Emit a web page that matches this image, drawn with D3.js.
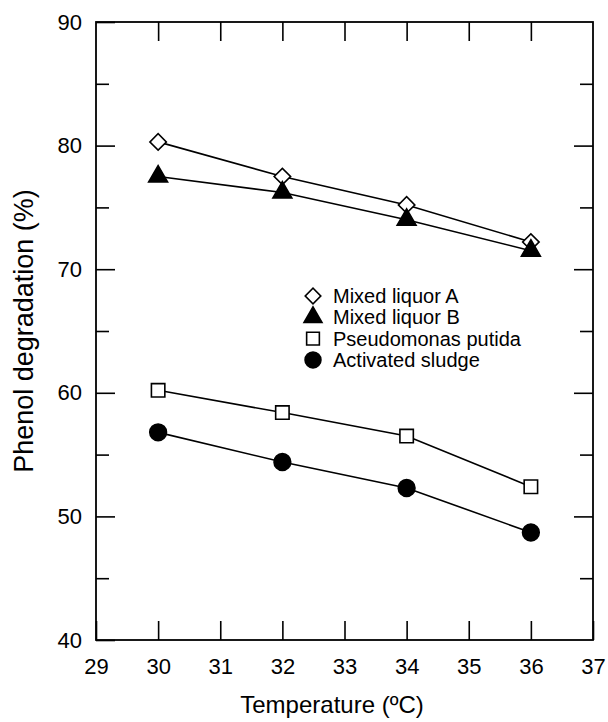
<!DOCTYPE html>
<html><head><meta charset="utf-8">
<script src="https://cdn.jsdelivr.net/npm/d3@7"></script>
<style>body{margin:0;background:#fff}text{font-family:"Liberation Sans",Arial,sans-serif;fill:#000}</style>
</head><body><svg id="c" width="608" height="722"></svg>
<script>
const temperature = [30, 32, 34, 36];
const mixedLiquorA = [80.3, 77.5, 75.2, 72.2];
const mixedLiquorB = [77.5, 76.2, 74.0, 71.5];
const pseudomonasPutida = [60.2, 58.4, 56.5, 52.4];
const activatedSludge = [56.8, 54.4, 52.3, 48.7];
const seriesNames = ["Mixed liquor A", "Mixed liquor B", "Pseudomonas putida", "Activated sludge"];
const xTicks = [29, 30, 31, 32, 33, 34, 35, 36, 37];
const yTicks = [40, 50, 60, 70, 80, 90];
const yMinorTicks = [45, 55, 65, 75, 85];

const svg = d3.select("#c");
const L = 96, R = 593, T = 22, B = 640;
const x = d3.scaleLinear().domain([29, 37]).range([L, R]);
const y = d3.scaleLinear().domain([40, 90]).range([B, T]);

const g = svg.append("g");
g.append("rect").attr("x", L).attr("y", T).attr("width", R - L).attr("height", B - T)
  .attr("fill", "none").attr("stroke", "#000").attr("stroke-width", 1.8);

const major = 19, minor = 13;
g.append("g").attr("transform", `translate(0,${B})`)
  .call(d3.axisBottom(x).tickValues(xTicks).tickSizeInner(-major).tickSizeOuter(0).tickPadding(18).tickFormat(d3.format("d")))
  .call(a => a.select(".domain").remove());
g.append("g").attr("transform", `translate(0,${T})`)
  .call(d3.axisTop(x).tickValues(xTicks.slice(1, -1)).tickSizeInner(-major).tickSizeOuter(0).tickFormat(""))
  .call(a => a.select(".domain").remove());
g.append("g").attr("transform", `translate(${L},0)`)
  .call(d3.axisLeft(y).tickValues(yTicks).tickSizeInner(-major).tickSizeOuter(0).tickPadding(14).tickFormat(d3.format("d")))
  .call(a => a.select(".domain").remove());
g.append("g").attr("transform", `translate(${L},0)`)
  .call(d3.axisLeft(y).tickValues(yMinorTicks).tickSizeInner(-minor).tickSizeOuter(0).tickFormat(""))
  .call(a => a.select(".domain").remove());
g.append("g").attr("transform", `translate(${R},0)`)
  .call(d3.axisRight(y).tickValues(yTicks.slice(1, -1)).tickSizeInner(-major).tickSizeOuter(0).tickFormat(""))
  .call(a => a.select(".domain").remove());
g.append("g").attr("transform", `translate(${R},0)`)
  .call(d3.axisRight(y).tickValues(yMinorTicks).tickSizeInner(-minor).tickSizeOuter(0).tickFormat(""))
  .call(a => a.select(".domain").remove());
g.selectAll(".tick line").attr("stroke", "#000").attr("stroke-width", 1.6);
g.selectAll(".tick text").style("font-size", "22px").style("font-family", "'Liberation Sans',Arial,sans-serif").attr("fill", "#000");

svg.append("text").attr("x", 332).attr("y", 713).attr("text-anchor", "middle")
  .style("font-size", "24px").text("Temperature (\u00BAC)");
svg.append("text").attr("transform", `translate(33,331) rotate(-90)`).attr("text-anchor", "middle")
  .style("font-size", "27px").text("Phenol degradation (%)");

const series = [
  {name: seriesNames[0], values: mixedLiquorA, sym: d3.symbolSquare, rot: 45, size: 135, fill: "#fff"},
  {name: seriesNames[1], values: mixedLiquorB, sym: d3.symbolTriangle, rot: 0, size: 155, fill: "#000"},
  {name: seriesNames[2], values: pseudomonasPutida, sym: d3.symbolSquare, rot: 0, size: 180, fill: "#fff"},
  {name: seriesNames[3], values: activatedSludge, sym: d3.symbolCircle, rot: 0, size: 220, fill: "#000"}
];
const line = d3.line().x((d, i) => x(temperature[i])).y(d => y(d));
series.forEach(s => {
  svg.append("path").attr("d", line(s.values)).attr("fill", "none").attr("stroke", "#000").attr("stroke-width", 1.6);
});
series.forEach(s => {
  svg.selectAll(null).data(s.values).enter().append("path")
    .attr("d", d3.symbol().type(s.sym).size(s.size))
    .attr("transform", (d, i) => `translate(${x(temperature[i])},${y(d)}) rotate(${s.rot})`)
    .attr("fill", s.fill).attr("stroke", "#000").attr("stroke-width", 1.6);
});

const lx = 313, ly0 = 296, dy = 21.3;
series.forEach((s, i) => {
  const yy = ly0 + i * dy;
  svg.append("path").attr("d", d3.symbol().type(s.sym).size(s.size * 0.9))
    .attr("transform", `translate(${lx},${yy}) rotate(${s.rot})`)
    .attr("fill", s.fill).attr("stroke", "#000").attr("stroke-width", 1.6);
  svg.append("text").attr("x", lx + 20).attr("y", yy + 7).style("font-size", "20px").text(s.name);
});
</script></body></html>
